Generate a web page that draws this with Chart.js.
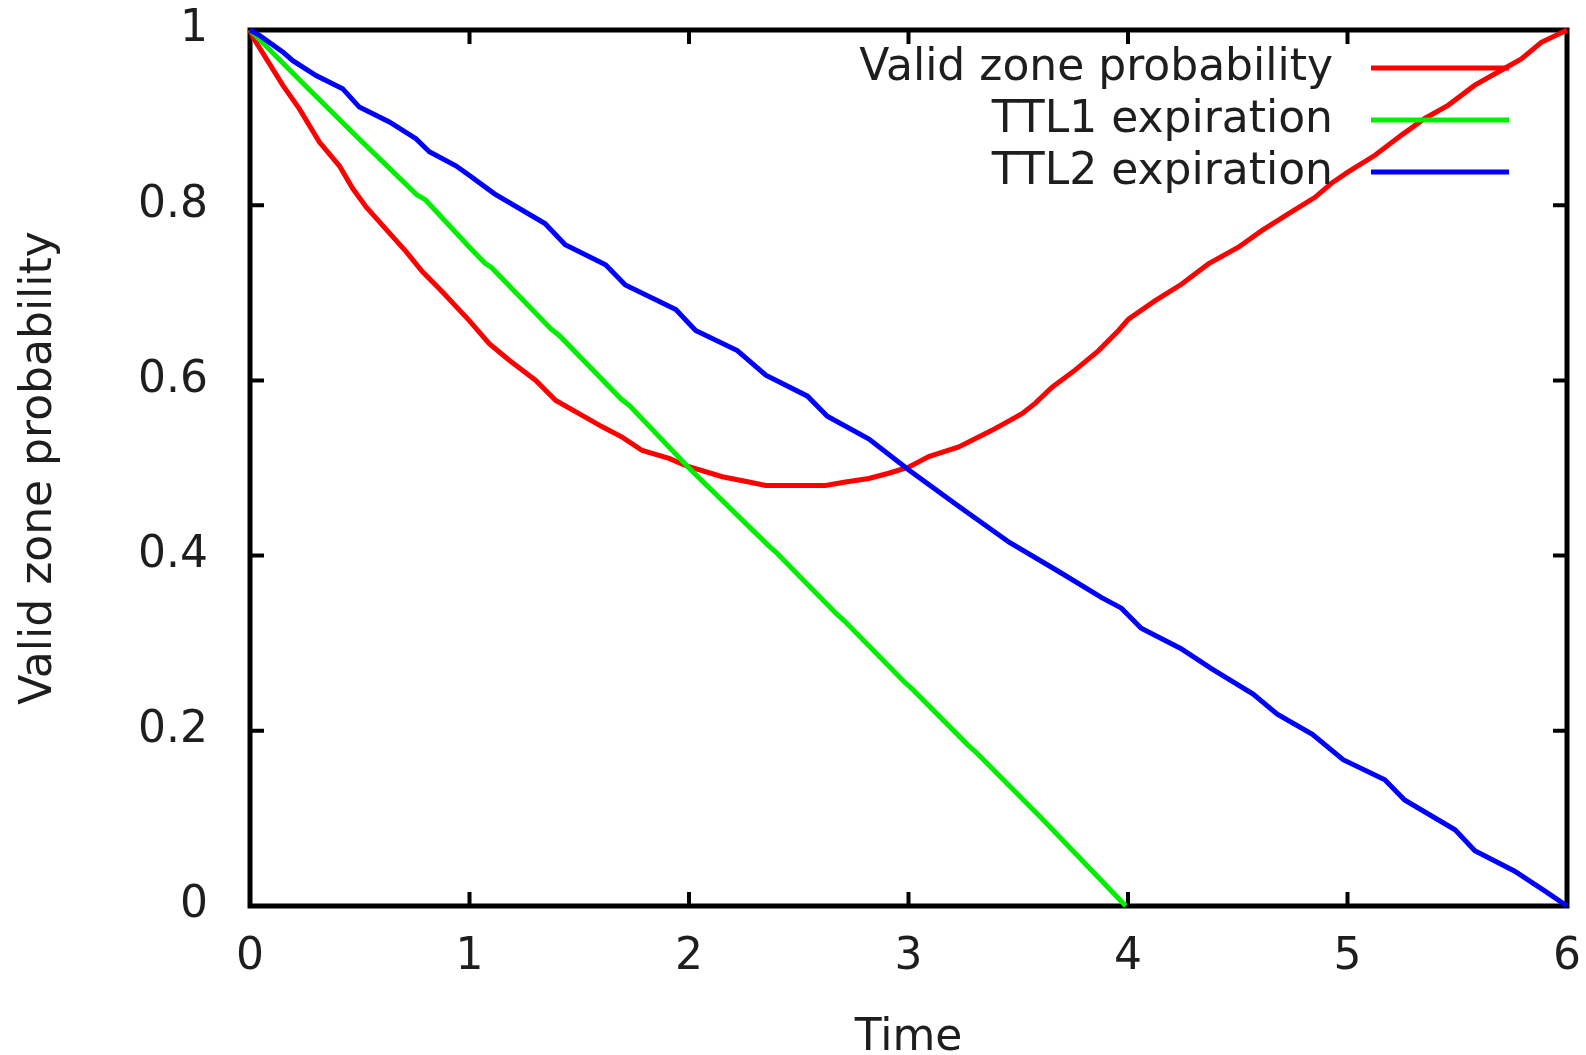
<!DOCTYPE html>
<html>
<head>
<meta charset="utf-8">
<script src="https://cdn.jsdelivr.net/npm/chart.js@4/dist/chart.umd.min.js"></script>
<style>
  html, body { margin: 0; padding: 0; background: #fff; }
  canvas { display: block; }
</style>
</head>
<body>
<canvas id="c" width="1586" height="1055"></canvas>
<script>
// ---- data ----
const seriesLabels = ['Valid zone probability', 'TTL1 expiration', 'TTL2 expiration'];
const seriesColors = ['#ff0000', '#00ee00', '#0000ff'];

const xTickLabels = ['0', '1', '2', '3', '4', '5', '6'];
const yTickLabels = ['0', '0.2', '0.4', '0.6', '0.8', '1'];

const redT = [0, 0.013, 0.149, 0.225, 0.316, 0.407, 0.468, 0.529, 0.604, 0.711, 0.786, 0.877, 1.0, 1.09, 1.181, 1.302, 1.393, 1.499, 1.605, 1.697, 1.787, 1.909, 1.992, 2.152, 2.273, 2.349, 2.486, 2.622, 2.713, 2.819, 2.910, 3.0, 3.092, 3.229, 3.380, 3.517, 3.578, 3.653, 3.760, 3.866, 3.957, 4.002, 4.124, 4.245, 4.366, 4.503, 4.609, 4.730, 4.852, 4.927, 5.003, 5.125, 5.246, 5.352, 5.458, 5.580, 5.686, 5.792, 5.883, 5.974, 6.0];
const redV = [1.0, 0.992, 0.937, 0.910, 0.872, 0.845, 0.819, 0.798, 0.777, 0.747, 0.724, 0.701, 0.668, 0.642, 0.623, 0.600, 0.577, 0.562, 0.547, 0.535, 0.520, 0.511, 0.502, 0.490, 0.484, 0.480, 0.480, 0.480, 0.484, 0.488, 0.494, 0.501, 0.513, 0.524, 0.543, 0.562, 0.574, 0.592, 0.612, 0.634, 0.657, 0.670, 0.691, 0.710, 0.733, 0.752, 0.771, 0.790, 0.809, 0.825, 0.838, 0.857, 0.880, 0.899, 0.914, 0.937, 0.952, 0.967, 0.986, 0.997, 1.0];

const greenT = [0, 0.25, 0.5, 0.76, 0.80, 1.0, 1.07, 1.10, 1.37, 1.41, 1.69, 1.73, 2.0, 2.36, 2.40, 2.67, 2.71, 2.98, 3.02, 3.27, 3.31, 3.56, 3.60, 3.99];
const greenV = [1.0, 0.937, 0.875, 0.812, 0.806, 0.752, 0.734, 0.729, 0.659, 0.651, 0.579, 0.571, 0.5, 0.412, 0.403, 0.334, 0.325, 0.256, 0.247, 0.184, 0.175, 0.112, 0.102, 0.0];

const blueT = [0, 0.043, 0.149, 0.195, 0.301, 0.422, 0.498, 0.635, 0.756, 0.817, 0.938, 1.0, 1.114, 1.344, 1.436, 1.62, 1.71, 1.94, 2.03, 2.22, 2.35, 2.54, 2.63, 2.82, 3.0, 3.23, 3.46, 3.69, 3.88, 3.97, 4.06, 4.24, 4.38, 4.57, 4.68, 4.84, 4.98, 5.17, 5.26, 5.49, 5.58, 5.76, 5.90, 6.0];
const blueV = [1.0, 0.994, 0.975, 0.965, 0.948, 0.933, 0.912, 0.895, 0.876, 0.861, 0.845, 0.834, 0.813, 0.779, 0.755, 0.732, 0.709, 0.681, 0.657, 0.634, 0.606, 0.582, 0.559, 0.533, 0.498, 0.456, 0.415, 0.381, 0.352, 0.340, 0.317, 0.294, 0.271, 0.242, 0.219, 0.196, 0.167, 0.144, 0.121, 0.087, 0.063, 0.040, 0.017, 0.0];

// ---- build ----
const pts = (ts, vs) => ts.map((t, i) => ({ x: t, y: vs[i] }));
const FONT = { family: '"DejaVu Sans", sans-serif', size: 44 };
const TEXT = '#1e1e1e';

function ds(i, data, order) {
  return {
    label: seriesLabels[i], data, borderColor: seriesColors[i], backgroundColor: seriesColors[i],
    borderWidth: 5, pointRadius: 0, tension: 0, fill: false, clip: false, order
  };
}

const framePlugin = {
  id: 'frame',
  beforeDatasetsDraw(chart) {
    const { ctx, chartArea: a, scales: { x, y } } = chart;
    ctx.save();
    ctx.strokeStyle = '#000';
    ctx.lineWidth = 4;
    ctx.beginPath();
    xTickLabels.forEach((_, i) => {
      const px = x.getPixelForValue(i);
      ctx.moveTo(px, a.bottom); ctx.lineTo(px, a.bottom - 14);
      ctx.moveTo(px, a.top); ctx.lineTo(px, a.top + 14);
    });
    yTickLabels.forEach((_, i) => {
      const py = y.getPixelForValue(i * 0.2);
      ctx.moveTo(a.left, py); ctx.lineTo(a.left + 14, py);
      ctx.moveTo(a.right, py); ctx.lineTo(a.right - 14, py);
    });
    ctx.stroke();
    ctx.lineWidth = 5;
    ctx.strokeRect(a.left, a.top, a.right - a.left, a.bottom - a.top);
    ctx.restore();
  },
  afterDatasetsDraw(chart) {
    const { ctx, chartArea: a } = chart;
    ctx.save();
    ctx.font = '44px "DejaVu Sans", sans-serif';
    ctx.textAlign = 'right';
    ctx.textBaseline = 'middle';
    seriesLabels.forEach((lab, i) => {
      const yy = a.top + 38 + i * 52;
      ctx.fillStyle = TEXT;
      ctx.fillText(lab, a.right - 234, yy + 1);
      ctx.strokeStyle = seriesColors[i];
      ctx.lineWidth = 5;
      ctx.beginPath();
      ctx.moveTo(a.right - 196, yy);
      ctx.lineTo(a.right - 58, yy);
      ctx.stroke();
    });
    ctx.restore();
  }
};

new Chart(document.getElementById('c'), {
  type: 'line',
  data: {
    datasets: [
      ds(0, pts(redT, redV), 3),
      ds(1, pts(greenT, greenV), 2),
      ds(2, pts(blueT, blueV), 1)
    ]
  },
  options: {
    responsive: false,
    animation: false,
    layout: { autoPadding: false, padding: { top: 30, right: 19, left: 0, bottom: 0 } },
    plugins: { legend: { display: false }, tooltip: { enabled: false } },
    scales: {
      x: {
        type: 'linear', min: 0, max: 6,
        grid: { display: false, drawTicks: false },
        border: { display: false },
        ticks: {
          stepSize: 1, autoSkip: false, maxRotation: 0, padding: 25,
          font: FONT, color: TEXT,
          callback: (v) => xTickLabels[Math.round(v)]
        },
        title: { display: true, text: 'Time', font: FONT, color: TEXT, padding: { top: 0, bottom: -10 } },
        afterFit: (s) => { s.height = 149; s.paddingLeft = 0; s.paddingRight = 0; }
      },
      y: {
        type: 'linear', min: 0, max: 1,
        grid: { display: false, drawTicks: false },
        border: { display: false },
        ticks: {
          stepSize: 0.2, autoSkip: false, padding: 42,
          font: FONT, color: TEXT,
          callback: (v) => yTickLabels[Math.round(v * 5)]
        },
        title: { display: true, text: 'Valid zone probability', font: FONT, color: TEXT, padding: { top: 13, bottom: 0 } },
        afterFit: (s) => { s.width = 250; s.paddingTop = 0; s.paddingBottom = 0; }
      }
    }
  },
  plugins: [framePlugin]
});
</script>
</body>
</html>
